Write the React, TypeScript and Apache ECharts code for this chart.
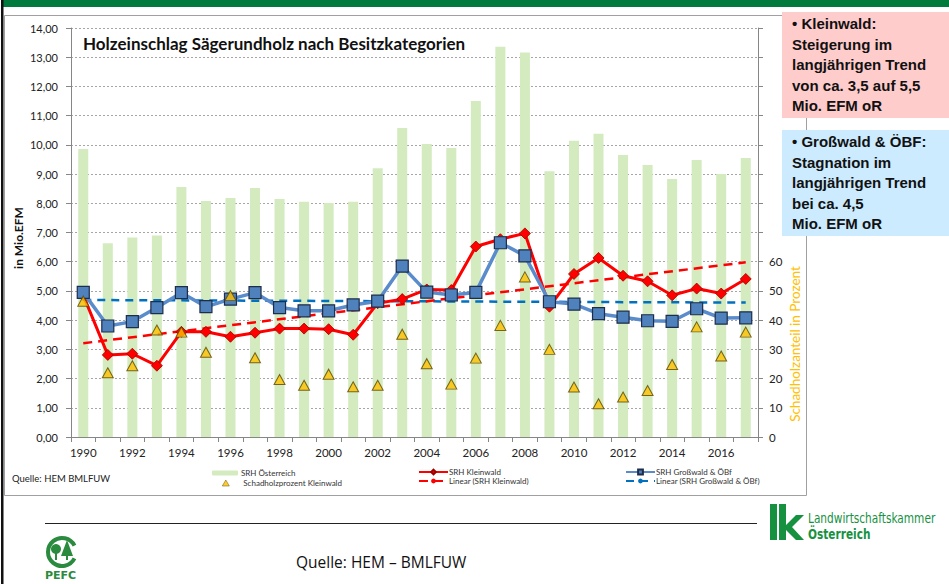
import React, { useEffect, useRef } from 'react';
import * as echarts from 'echarts';

const years = ['1990','1991','1992','1993','1994','1995','1996','1997','1998','1999','2000','2001','2002','2003','2004','2005','2006','2007','2008','2009','2010','2011','2012','2013','2014','2015','2016','2017'];

const srhOesterreich = [9.86,6.63,6.83,6.9,8.56,8.08,8.18,8.52,8.15,8.05,8.01,8.05,9.2,10.58,10.03,9.89,11.5,13.36,13.16,9.1,10.14,10.38,9.65,9.31,8.83,9.48,9.0,9.55];
const srhKleinwald = [4.85,2.81,2.85,2.44,3.6,3.6,3.43,3.57,3.71,3.71,3.69,3.5,4.58,4.72,5.05,5.03,6.52,6.77,6.97,4.46,5.58,6.13,5.52,5.33,4.85,5.08,4.91,5.41];
const srhGrosswald = [4.95,3.8,3.95,4.43,4.94,4.46,4.72,4.94,4.43,4.32,4.32,4.52,4.65,5.85,4.96,4.86,4.95,6.65,6.2,4.63,4.55,4.22,4.1,3.98,3.96,4.39,4.07,4.08];
const schadholzKleinwald = [46.5,22.0,24.4,36.6,35.9,29.0,48.4,27.1,19.7,17.7,21.5,17.2,17.7,35.2,25.1,18.1,27.0,38.2,54.8,30.0,17.1,11.4,13.7,15.9,24.8,37.7,27.7,35.9];
// trend line values read at first and last year
const trendKleinwald = [3.21, 5.98];
const trendGrosswald = [4.69, 4.6];

const leftMax = 14;
const rightMax = 140;
const rightLabelMax = 60;

const FONT = 'Lato, "Liberation Sans", sans-serif';
const BOX_FONT = '"Liberation Sans", Arial, sans-serif';

const trendSeries = (t: number[]) => years.map((_, i) => (i === 0 ? t[0] : i === years.length - 1 ? t[1] : null));

export default function App() {
  const ref = useRef<HTMLDivElement>(null);
  useEffect(() => {
    if (!ref.current) return;
    const chart = echarts.init(ref.current, null, { renderer: 'svg' });
    const green = '#16913f';
    const boxText = (x: number, y: number, lines: string[]) => lines.map((l, i) => ({
      type: 'text', left: x, top: y + i * 20.5,
      style: { text: l, font: `bold 15px ${BOX_FONT}`, fill: '#111' }, z: 20,
    }));
    const legendText = { fontSize: 8, color: '#333', fontFamily: FONT };
    chart.setOption({
      animation: false,
      backgroundColor: '#ffffff',
      textStyle: { fontFamily: FONT },
      grid: { left: 71, right: 191, top: 28, bottom: 147, containLabel: false },
      legend: [
        {
          left: 207, top: 464, orient: 'vertical', itemGap: 2, itemWidth: 26, itemHeight: 5,
          textStyle: { ...legendText, padding: [0, 0, 0, -2] },
          data: ['SRH Österreich'],
        },
        {
          left: 217, top: 474, orient: 'vertical', itemGap: 2, itemWidth: 7, itemHeight: 6,
          textStyle: { ...legendText, padding: [0, 0, 0, 9] },
          data: [{ name: 'Schadholzprozent Kleinwald', icon: 'triangle', itemStyle: { borderWidth: 0.6 } }],
        },
        {
          left: 413, top: 463, orient: 'vertical', itemGap: 1, itemWidth: 29, itemHeight: 6,
          textStyle: { ...legendText, padding: [0, 0, 0, -4] },
          data: ['SRH Kleinwald', 'Linear (SRH Kleinwald)'],
        },
        {
          left: 620, top: 463, orient: 'vertical', itemGap: 1, itemWidth: 29, itemHeight: 6,
          textStyle: { ...legendText, padding: [0, 0, 0, -4] },
          data: ['SRH Großwald & ÖBf', 'Linear (SRH Großwald & ÖBf)'],
        },
      ],
      xAxis: {
        type: 'category', data: years, boundaryGap: true,
        axisLine: { lineStyle: { color: '#868686' } },
        axisTick: { show: true, interval: 0, length: 5, lineStyle: { color: '#868686' } },
        axisLabel: { interval: 1, fontSize: 11.5, color: '#222', margin: 9, fontFamily: FONT },
      },
      yAxis: [
        {
          type: 'value', min: 0, max: leftMax, interval: 1,
          axisLine: { show: true, lineStyle: { color: '#868686' } },
          axisTick: { show: true, length: 5, lineStyle: { color: '#868686' } },
          axisLabel: { fontSize: 11, color: '#222', margin: 13, fontFamily: FONT, formatter: (v: number) => v.toFixed(2).replace('.', ',') },
          splitLine: { show: true, lineStyle: { color: '#a6a6a6', type: [2, 2], width: 1 } },
        },
        {
          type: 'value', min: 0, max: rightMax, interval: 10, position: 'right',
          axisLine: { show: true, lineStyle: { color: '#868686' } },
          axisTick: { show: true, length: 5, lineStyle: { color: '#868686' } },
          axisLabel: { fontSize: 11.5, color: '#222', margin: 11, fontFamily: FONT, formatter: (v: number) => (v <= rightLabelMax ? String(v) : '') },
          splitLine: { show: false },
        },
      ],
      series: [
        {
          name: 'SRH Österreich', type: 'bar', data: srhOesterreich, barWidth: 10,
          itemStyle: { color: '#d3ebbf' }, z: 1,
        },
        {
          name: 'Linear (SRH Großwald & ÖBf)', type: 'line', data: trendSeries(trendGrosswald), connectNulls: true,
          symbol: 'none', lineStyle: { color: '#0070c0', width: 2.5, type: [8, 6] }, itemStyle: { color: '#0070c0' }, z: 2,
        },
        {
          name: 'Linear (SRH Kleinwald)', type: 'line', data: trendSeries(trendKleinwald), connectNulls: true,
          symbol: 'none', lineStyle: { color: '#ff0000', width: 2.5, type: [9, 6] }, itemStyle: { color: '#ff0000' }, z: 3,
        },
        {
          name: 'SRH Kleinwald', type: 'line', data: srhKleinwald, symbol: 'diamond', symbolSize: 11,
          lineStyle: { color: '#ff0000', width: 3 },
          itemStyle: { color: '#ff0000', borderColor: '#9a0000', borderWidth: 0.8 }, z: 4,
        },
        {
          name: 'SRH Großwald & ÖBf', type: 'line', data: srhGrosswald, symbol: 'rect', symbolSize: 12,
          lineStyle: { color: '#5a8ccc', width: 3.5 },
          itemStyle: { color: '#4f81bd', borderColor: '#1d2d4a', borderWidth: 1.2 }, z: 5,
        },
        {
          name: 'Schadholzprozent Kleinwald', type: 'scatter', yAxisIndex: 1, data: schadholzKleinwald,
          symbol: 'triangle', symbolSize: [11, 10],
          itemStyle: { color: '#ffc000', borderColor: '#5a4500', borderWidth: 1 }, z: 6,
        },
      ],
      graphic: [
        // slide top band and left border
        { type: 'rect', shape: { x: 3, y: 0, width: 946, height: 7 }, style: { fill: '#007a3d' }, z: 10 },
        { type: 'rect', shape: { x: 1, y: 0, width: 2.5, height: 584 }, style: { fill: '#111' }, z: 10 },
        // chart frame
        { type: 'rect', shape: { x: 4.5, y: 15.5, width: 802, height: 480 }, style: { fill: 'none', stroke: '#a0a0a0', lineWidth: 1 }, z: 9 },
        // title
        { type: 'text', left: 83, top: 35, style: { text: 'Holzeinschlag Sägerundholz nach Besitzkategorien', font: `bold 17px ${FONT}`, fill: '#111' }, z: 20 },
        // axis names
        { type: 'text', x: 18, y: 238, rotation: Math.PI / 2, style: { text: 'in Mio.EFM', font: `bold 12px ${FONT}`, fill: '#111', align: 'center', verticalAlign: 'middle' }, z: 20 },
        { type: 'text', x: 795, y: 344, rotation: Math.PI / 2, style: { text: 'Schadholzanteil in Prozent', font: `13.5px ${FONT}`, fill: '#ffc000', align: 'center', verticalAlign: 'middle' }, z: 20 },
        { type: 'text', left: 12, top: 473, style: { text: 'Quelle: HEM BMLFUW', font: `9.5px ${FONT}`, fill: '#222' }, z: 20 },
        // info boxes
        { type: 'rect', shape: { x: 782, y: 12, width: 167, height: 106 }, style: { fill: '#ffcccc' }, z: 15 },
        { type: 'rect', shape: { x: 782, y: 130, width: 167, height: 106 }, style: { fill: '#ccebff' }, z: 15 },
        ...boxText(792, 16, ['• Kleinwald:', 'Steigerung im', 'langjährigen Trend', 'von ca. 3,5 auf 5,5', 'Mio. EFM oR']),
        ...boxText(792, 134, ['• Großwald & ÖBF:', 'Stagnation im', 'langjährigen Trend', 'bei ca. 4,5', 'Mio. EFM oR']),
        // bottom rule and source
        { type: 'line', shape: { x1: 45, y1: 523.5, x2: 757, y2: 523.5 }, style: { stroke: '#222', lineWidth: 1 }, z: 10 },
        { type: 'text', left: 296, top: 554, style: { text: 'Quelle: HEM – BMLFUW', font: `15.5px "Open Sans", ${FONT}`, fill: '#111' }, z: 20 },
        // PEFC logo
        { type: 'arc', shape: { cx: 62, cy: 552, r: 14, startAngle: Math.PI * 0.15, endAngle: Math.PI * 1.85, clockwise: true }, style: { stroke: '#2a8a3e', lineWidth: 4, fill: 'none' }, z: 20 },
        { type: 'circle', shape: { cx: 56, cy: 549, r: 5 }, style: { fill: '#2a8a3e' }, z: 20 },
        { type: 'rect', shape: { x: 55, y: 552, width: 2, height: 8 }, style: { fill: '#2a8a3e' }, z: 20 },
        { type: 'polygon', shape: { points: [[67, 540], [61, 556], [73, 556]] }, style: { fill: '#2a8a3e' }, z: 20 },
        { type: 'rect', shape: { x: 66, y: 555, width: 2, height: 5 }, style: { fill: '#2a8a3e' }, z: 20 },
        { type: 'text', left: 45, top: 570, style: { text: 'PEFC', font: `bold 11px "DejaVu Sans", sans-serif`, fill: '#2a8a3e' }, z: 20 },
        // LK logo
        { type: 'rect', shape: { x: 770, y: 504, width: 7, height: 36 }, style: { fill: green }, z: 20 },
        { type: 'rect', shape: { x: 779, y: 504, width: 7, height: 36 }, style: { fill: green }, z: 20 },
        { type: 'polygon', shape: { points: [[786, 525], [796, 515], [804, 515], [792, 527], [804, 540], [796, 540], [786, 530]] }, style: { fill: green }, z: 20 },
        { type: 'text', x: 808, y: 511, scaleX: 0.84, style: { text: 'Landwirtschaftskammer', font: `14px "DejaVu Sans Condensed", "Liberation Sans", sans-serif`, fill: green }, z: 20 },
        { type: 'text', x: 808, y: 527, scaleX: 0.84, style: { text: 'Österreich', font: `bold 14px "DejaVu Sans Condensed", "Liberation Sans", sans-serif`, fill: green }, z: 20 },
      ],
    });
    return () => chart.dispose();
  }, []);
  return <div ref={ref} style={{ position: 'absolute', left: 0, top: 0, width: 949, height: 584 }} />;
}
